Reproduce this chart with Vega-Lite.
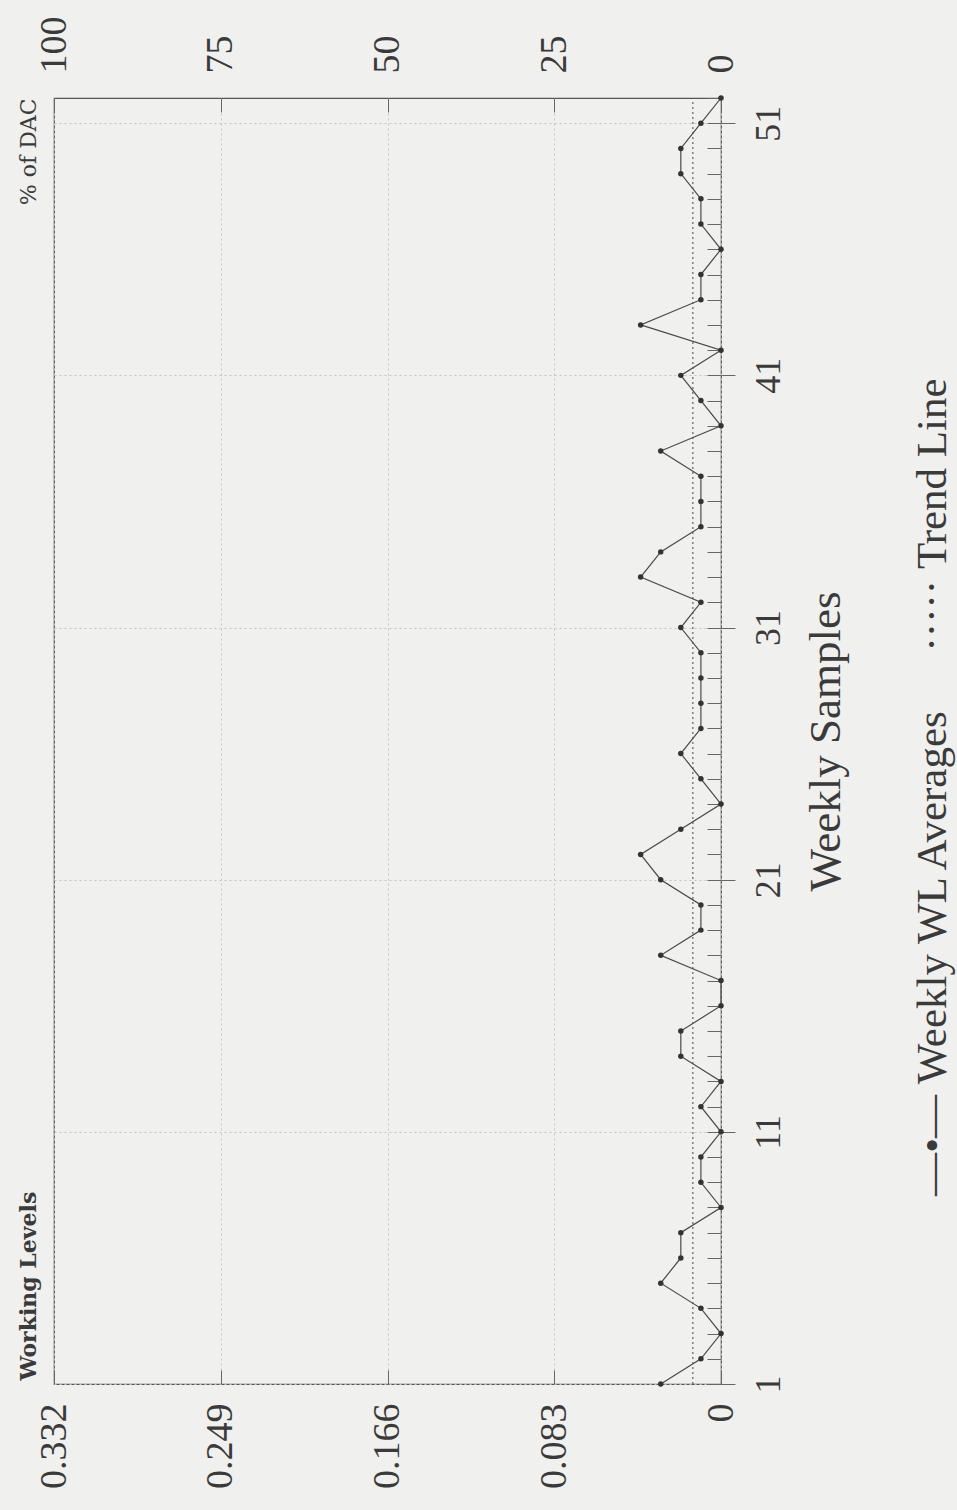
{
  "$schema": "https://vega.github.io/schema/vega-lite/v6.json",
  "width": 667,
  "height": 1286,
  "autosize": {"type": "none"},
  "padding": {"left": 54, "top": 98, "right": 236, "bottom": 126},
  "background": "#f0f0ee",
  "config": {
    "view": {"stroke": "#555", "strokeWidth": 1.2},
    "font": "Liberation Serif",
    "axis": {
      "labelFont": "Liberation Serif",
      "titleFont": "Liberation Serif",
      "labelColor": "#3a3a3a",
      "titleColor": "#3a3a3a",
      "domainColor": "#555",
      "tickColor": "#666",
      "gridColor": "#c4c4c4",
      "gridDash": [2, 3],
      "labelFlush": false,
      "labelOverlap": false,
      "labelBound": false,
      "labelLimit": 0
    }
  },
  "datasets": {
    "wl": [
      {"sample": 1, "wl": 0.03}, {"sample": 2, "wl": 0.01}, {"sample": 3, "wl": 0}, {"sample": 4, "wl": 0.01},
      {"sample": 5, "wl": 0.03}, {"sample": 6, "wl": 0.02}, {"sample": 7, "wl": 0.02}, {"sample": 8, "wl": 0},
      {"sample": 9, "wl": 0.01}, {"sample": 10, "wl": 0.01}, {"sample": 11, "wl": 0}, {"sample": 12, "wl": 0.01},
      {"sample": 13, "wl": 0}, {"sample": 14, "wl": 0.02}, {"sample": 15, "wl": 0.02}, {"sample": 16, "wl": 0},
      {"sample": 17, "wl": 0}, {"sample": 18, "wl": 0.03}, {"sample": 19, "wl": 0.01}, {"sample": 20, "wl": 0.01},
      {"sample": 21, "wl": 0.03}, {"sample": 22, "wl": 0.04}, {"sample": 23, "wl": 0.02}, {"sample": 24, "wl": 0},
      {"sample": 25, "wl": 0.01}, {"sample": 26, "wl": 0.02}, {"sample": 27, "wl": 0.01}, {"sample": 28, "wl": 0.01},
      {"sample": 29, "wl": 0.01}, {"sample": 30, "wl": 0.01}, {"sample": 31, "wl": 0.02}, {"sample": 32, "wl": 0.01},
      {"sample": 33, "wl": 0.04}, {"sample": 34, "wl": 0.03}, {"sample": 35, "wl": 0.01}, {"sample": 36, "wl": 0.01},
      {"sample": 37, "wl": 0.01}, {"sample": 38, "wl": 0.03}, {"sample": 39, "wl": 0}, {"sample": 40, "wl": 0.01},
      {"sample": 41, "wl": 0.02}, {"sample": 42, "wl": 0}, {"sample": 43, "wl": 0.04}, {"sample": 44, "wl": 0.01},
      {"sample": 45, "wl": 0.01}, {"sample": 46, "wl": 0}, {"sample": 47, "wl": 0.01}, {"sample": 48, "wl": 0.01},
      {"sample": 49, "wl": 0.02}, {"sample": 50, "wl": 0.02}, {"sample": 51, "wl": 0.01}, {"sample": 52, "wl": 0}
    ],
    "trend": [
      {"sample": 1, "trend": 0.014},
      {"sample": 52, "trend": 0.014}
    ]
  },
  "layer": [
    {
      "data": {"name": "wl"},
      "mark": {"type": "line", "color": "#4a4a4a", "strokeWidth": 1.2},
      "encoding": {
        "x": {
          "field": "wl", "type": "quantitative",
          "scale": {"domain": [0, 0.332], "reverse": true, "nice": false, "zero": false},
          "axis": {
            "orient": "bottom",
            "values": [0, 0.083, 0.166, 0.249, 0.332],
            "labelExpr": "datum.value == 0 ? '0' : format(datum.value, '.3f')",
            "labelAngle": 270, "labelAlign": "right", "labelBaseline": "middle",
            "labelFontSize": 38, "labelPadding": 33, "tickSize": -14,
            "domain": false, "grid": true,
            "title": "Working Levels", "titleFont": "DejaVu Serif", "titleAngle": 270, "titleFontSize": 22, "titleFontWeight": "bold",
            "titleX": -26, "titleY": -4, "titleAlign": "left", "titleBaseline": "middle"
          }
        },
        "y": {
          "field": "sample", "type": "quantitative",
          "scale": {"domain": [1, 52], "nice": false, "zero": false},
          "axis": {
            "orient": "right",
            "values": [1, 11, 21, 31, 41, 51],
            "labelAngle": 270, "labelAlign": "center", "labelBaseline": "middle",
            "labelFontSize": 36, "tickSize": 14, "labelPadding": 33,
            "domain": false, "grid": true,
            "title": "Weekly Samples", "titleAngle": 270, "titleFontSize": 45, "titleFontWeight": "normal",
            "titleX": 104, "titleY": 643, "titleAlign": "center", "titleBaseline": "middle"
          }
        },
        "order": {"field": "sample", "type": "quantitative"}
      }
    },
    {
      "data": {"name": "wl"},
      "mark": {"type": "point", "filled": true, "color": "#333", "size": 30, "opacity": 1},
      "encoding": {
        "x": {
          "field": "wl", "type": "quantitative",
          "scale": {"domain": [0, 0.332], "reverse": true, "nice": false, "zero": false},
          "axis": {
            "orient": "top",
            "values": [0, 0.083, 0.166, 0.249, 0.332],
            "labelExpr": "format(round(datum.value / 0.332 * 100), 'd')",
            "labelAngle": 270, "labelAlign": "left", "labelBaseline": "middle",
            "labelFontSize": 38, "labelPadding": 39, "tickSize": -14,
            "domain": false, "grid": false,
            "title": "% of DAC", "titleFont": "DejaVu Serif", "titleAngle": 270, "titleFontSize": 22, "titleFontWeight": "normal",
            "titleX": -26, "titleY": 0, "titleAlign": "right", "titleBaseline": "middle"
          }
        },
        "y": {
          "field": "sample", "type": "quantitative",
          "scale": {"domain": [1, 52], "nice": false, "zero": false},
          "axis": {
            "orient": "right",
            "values": [1,2,3,4,5,6,7,8,9,10,11,12,13,14,15,16,17,18,19,20,21,22,23,24,25,26,27,28,29,30,31,32,33,34,35,36,37,38,39,40,41,42,43,44,45,46,47,48,49,50,51,52],
            "labels": false, "tickSize": -14, "domain": false, "grid": false, "title": null
          }
        }
      }
    },
    {
      "data": {"name": "trend"},
      "mark": {"type": "line", "color": "#555", "strokeWidth": 1.1, "strokeDash": [2, 3]},
      "encoding": {
        "x": {
          "field": "trend", "type": "quantitative",
          "scale": {"domain": [0, 0.332], "reverse": true, "nice": false, "zero": false},
          "axis": null
        },
        "y": {
          "field": "sample", "type": "quantitative",
          "scale": {"domain": [1, 52], "nice": false, "zero": false},
          "axis": {
            "orient": "right",
            "values": [27.7, 40.9],
            "labelExpr": "datum.value < 30 ? '—•—\u00a0Weekly WL Averages' : '·····\u00a0Trend Line'",
            "labelAngle": 270, "labelAlign": "right", "labelBaseline": "alphabetic",
            "labelFontSize": 43, "labelPadding": 224, "ticks": false,
            "domain": false, "grid": false, "title": null
          }
        },
        "order": {"field": "sample", "type": "quantitative"}
      }
    }
  ],
  "resolve": {
    "scale": {"x": "independent", "y": "independent"},
    "axis": {"x": "independent", "y": "independent"}
  }
}
